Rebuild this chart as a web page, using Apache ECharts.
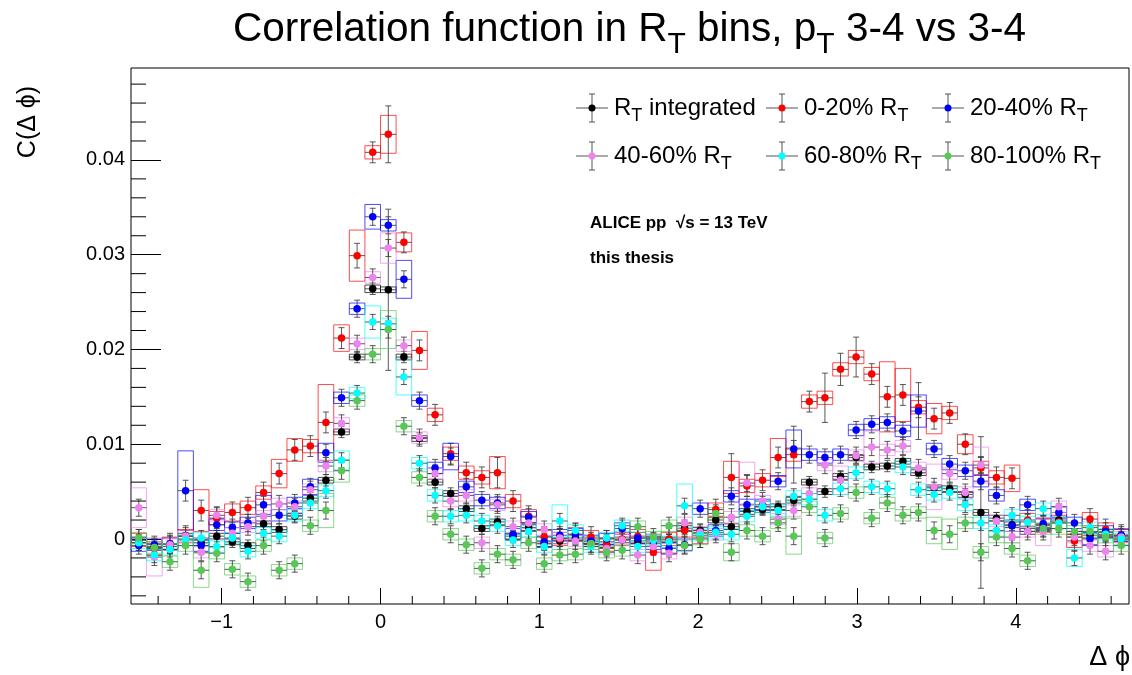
<!DOCTYPE html>
<html><head><meta charset="utf-8">
<script src="https://cdn.jsdelivr.net/npm/echarts@6/dist/echarts.min.js"></script>
<style>html,body{margin:0;padding:0;background:#fff}#c{width:1132px;height:675px}</style>
</head><body><div id="c"></div>
<script>
// ---------- axis definition ----------
const NBINS = 64;
const X_MIN = -Math.PI / 2, X_MAX = 3 * Math.PI / 2;
const Y_MIN = -0.00686, Y_MAX = 0.0497;
const xTicks = [-1, 0, 1, 2, 3, 4];
const xTickLabels = ['\u22121', '0', '1', '2', '3', '4'];
const xMinorTicks = [-1.4, -1.2, -0.8, -0.6, -0.4, -0.2, 0.2, 0.4, 0.6, 0.8, 1.2, 1.4, 1.6, 1.8, 2.2, 2.4, 2.6, 2.8, 3.2, 3.4, 3.6, 3.8, 4.2, 4.4, 4.6];
const yTicks = [0, 0.01, 0.02, 0.03, 0.04];
const yTickLabels = ['0', '0.01', '0.02', '0.03', '0.04'];
const yMinorTicks = [-0.006, -0.004, -0.002, 0.002, 0.004, 0.006, 0.008, 0.012, 0.014, 0.016, 0.018, 0.022, 0.024, 0.026, 0.028, 0.032, 0.034, 0.036, 0.038, 0.042, 0.044, 0.046, 0.048];

// ---------- series ----------
const seriesNames = ['R{s|T} integrated', '0-20% R{s|T}', '20-40% R{s|T}', '40-60% R{s|T}', '60-80% R{s|T}', '80-100% R{s|T}'];
const seriesColors = ['#000000', '#ff0000', '#0000ff', '#ee82ee', '#00ffff', '#55c855'];

const cIntegrated = [
 -0.0001, -0.0008, -0.0008, 0.0003, -0.0004, 0.0003, -0.0003, -0.0007,
 0.0016, 0.0010, 0.0024, 0.0043, 0.0062, 0.0113, 0.0192, 0.0264,
 0.0263, 0.0192, 0.0106, 0.0060, 0.0048, 0.0032, 0.0011, 0.0018,
 0.0003, 0.0012, -0.0005, -0.0002, 0.0001, -0.0003, -0.0006, -0.0001,
 -0.0002, 0.0000, -0.0001, 0.0011, 0.0009, 0.0020, 0.0013, 0.0029,
 0.0031, 0.0034, 0.0041, 0.0060, 0.0050, 0.0066, 0.0086, 0.0076,
 0.0077, 0.0082, 0.0070, 0.0054, 0.0053, 0.0047, 0.0028, 0.0022,
 0.0015, 0.0008, 0.0012, 0.0020, 0.0005, 0.0004, 0.0004, 0.0000];
const c0to20 = [
 -0.0001, -0.0010, -0.0005, 0.0003, 0.0030, 0.0022, 0.0028, 0.0033,
 0.0049, 0.0069, 0.0094, 0.0098, 0.0123, 0.0212, 0.0299, 0.0408,
 0.0427, 0.0313, 0.0199, 0.0131, 0.0090, 0.0070, 0.0065, 0.0070,
 0.0040, 0.0024, 0.0002, 0.0000, 0.0005, 0.0002, -0.0006, 0.0000,
 0.0003, -0.0014, 0.0000, 0.0009, 0.0002, 0.0031, 0.0065, 0.0056,
 0.0062, 0.0086, 0.0089, 0.0145, 0.0149, 0.0179, 0.0192, 0.0174,
 0.0150, 0.0152, 0.0139, 0.0127, 0.0133, 0.0100, 0.0075, 0.0065,
 0.0064, 0.0020, 0.0014, 0.0018, -0.0002, 0.0021, 0.0010, 0.0004];
const c20to40 = [
 -0.0007, -0.0006, -0.0005, 0.0051, -0.0007, 0.0015, 0.0012, 0.0017,
 0.0036, 0.0025, 0.0038, 0.0055, 0.0091, 0.0149, 0.0243, 0.0340,
 0.0331, 0.0274, 0.0146, 0.0075, 0.0087, 0.0055, 0.0041, 0.0038,
 0.0005, 0.0023, -0.0003, 0.0004, 0.0005, -0.0002, 0.0000, 0.0011,
 0.0001, -0.0005, -0.0010, -0.0006, 0.0032, 0.0009, 0.0045, 0.0036,
 0.0036, 0.0061, 0.0095, 0.0089, 0.0086, 0.0089, 0.0115, 0.0121,
 0.0123, 0.0114, 0.0135, 0.0095, 0.0079, 0.0072, 0.0061, 0.0046,
 0.0014, 0.0036, 0.0016, 0.0028, 0.0017, 0.0000, 0.0008, 0.0004];
const c40to60 = [
 0.0033, -0.0019, -0.0006, 0.0003, -0.0014, 0.0025, 0.0006, 0.0013,
 0.0024, 0.0037, 0.0034, 0.0052, 0.0077, 0.0122, 0.0206, 0.0276,
 0.0307, 0.0204, 0.0107, 0.0069, 0.0040, 0.0046, -0.0004, 0.0036,
 0.0013, 0.0017, 0.0010, 0.0001, -0.0002, -0.0005, -0.0010, -0.0001,
 -0.0017, -0.0008, -0.0015, 0.0017, 0.0007, 0.0005, 0.0023, 0.0059,
 0.0040, 0.0021, 0.0030, 0.0048, 0.0078, 0.0062, 0.0088, 0.0097,
 0.0094, 0.0098, 0.0075, 0.0055, 0.0069, 0.0049, 0.0078, 0.0019,
 0.0002, 0.0008, 0.0008, 0.0034, 0.0002, -0.0007, -0.0013, 0.0002];
const c60to80 = [
 -0.0004, -0.0017, -0.0011, -0.0001, 0.0001, -0.0008, 0.0001, -0.0013,
 0.0006, 0.0003, 0.0025, 0.0038, 0.0051, 0.0083, 0.0154, 0.0229,
 0.0227, 0.0171, 0.0080, 0.0046, 0.0024, 0.0025, 0.0019, 0.0014,
 -0.0001, 0.0008, -0.0008, 0.0019, 0.0009, -0.0008, 0.0001, 0.0014,
 -0.0008, -0.0001, -0.0003, 0.0035, 0.0004, 0.0007, 0.0005, 0.0024,
 0.0034, 0.0030, 0.0045, 0.0042, 0.0025, 0.0053, 0.0070, 0.0055,
 0.0053, 0.0076, 0.0052, 0.0047, 0.0049, 0.0036, 0.0017, 0.0009,
 0.0025, 0.0018, 0.0032, 0.0017, -0.0020, 0.0012, 0.0005, 0.0000];
const c80to100 = [
 0.0001, -0.0009, -0.0024, -0.0007, -0.0033, -0.0015, -0.0032, -0.0045,
 -0.0007, -0.0033, -0.0026, 0.0014, 0.0030, 0.0072, 0.0146, 0.0195,
 0.0221, 0.0119, 0.0065, 0.0024, 0.0005, -0.0006, -0.0031, -0.0016,
 -0.0022, -0.0004, -0.0026, -0.0017, -0.0016, -0.0005, -0.0014, -0.0012,
 0.0013, 0.0002, 0.0014, -0.0007, 0.0000, 0.0027, -0.0014, 0.0009,
 0.0003, 0.0017, 0.0003, 0.0034, 0.0001, 0.0027, 0.0049, 0.0022,
 0.0038, 0.0025, 0.0028, 0.0009, 0.0005, 0.0017, -0.0014, 0.0002,
 -0.0010, -0.0023, 0.0011, 0.0011, 0.0008, 0.0008, 0.0002, -0.0007];
const seriesValues = [cIntegrated, c0to20, c20to40, c40to60, c60to80, c80to100];

// statistical errors: typical value per series + bins with larger errors [bin, err]
const statTypical = [0.0006, 0.0011, 0.0009, 0.0009, 0.0008, 0.0009];
const statLarge = [
 [[16, 0.0085], [54, 0.008]],
 [[16, 0.003], [14, 0.0013], [23, 0.0016], [38, 0.0025], [42, 0.003], [44, 0.0026], [45, 0.0017], [46, 0.0021]],
 [[3, 0.0011], [50, 0.003]],
 [],
 [],
 []
];
// systematic uncertainty boxes: typical half-height per series + larger boxes [bin, halfHeight]
const sysTypical = [0.0003, 0.0007, 0.0006, 0.0006, 0.0006, 0.0006];
const sysLarge = [
 [[15, 0.0004]],
 [[4, 0.0022], [6, 0.0009], [9, 0.0015], [10, 0.0012], [12, 0.004], [13, 0.0014], [14, 0.0027], [16, 0.002], [17, 0.001], [18, 0.002], [23, 0.0017], [33, 0.0019], [38, 0.0017], [41, 0.002], [48, 0.0037], [49, 0.0028], [51, 0.0016], [53, 0.001], [56, 0.0014]],
 [[3, 0.0042], [8, 0.001], [11, 0.0008], [12, 0.001], [15, 0.0013], [17, 0.002], [20, 0.0014], [42, 0.002], [50, 0.0017]],
 [[0, 0.0021], [1, 0.002], [16, 0.0016], [39, 0.0022], [45, 0.0015], [47, 0.0017], [51, 0.0024], [54, 0.0019], [58, 0.0015]],
 [[13, 0.001], [15, 0.0017], [17, 0.0019], [27, 0.0017], [35, 0.0023], [60, 0.0009]],
 [[4, 0.0018], [12, 0.0018], [13, 0.0012], [16, 0.002], [38, 0.0009], [42, 0.0019], [51, 0.0014], [52, 0.0016]]
];

// ---------- build ----------
const binW = (X_MAX - X_MIN) / NBINS;
const binCenters = Array.from({length: NBINS}, (_, i) => X_MIN + (i + 0.5) * binW);
function expand(typical, large) {
  const a = new Array(NBINS).fill(typical);
  large.forEach(([b, v]) => { a[b] = v; });
  return a;
}
const FONT = '"Liberation Sans", Arial, Helvetica, sans-serif';

function boxRender(params, api) {
  const x = api.value(0), y = api.value(1), s = api.value(2);
  const p1 = api.coord([x - binW / 2, y + s]);
  const p2 = api.coord([x + binW / 2, y - s]);
  return {type: 'rect', shape: {x: p1[0], y: p1[1], width: p2[0] - p1[0], height: p2[1] - p1[1]},
    style: {fill: 'none', stroke: api.visual('color'), lineWidth: 1, opacity: 0.7}};
}
function errRender(params, api) {
  const x = api.value(0), y = api.value(1), e = api.value(2);
  const c = api.coord([x, y]);
  const hi = api.coord([x, y + e]);
  const lo = api.coord([x, y - e]);
  const l = api.coord([x - binW / 2, y]);
  const r = api.coord([x + binW / 2, y]);
  const st = {stroke: '#3c3c3c', lineWidth: 1, opacity: 0.85};
  return {type: 'group', children: [
    {type: 'line', shape: {x1: c[0], y1: hi[1], x2: c[0], y2: lo[1]}, style: st},
    {type: 'line', shape: {x1: c[0] - 3, y1: hi[1], x2: c[0] + 3, y2: hi[1]}, style: st},
    {type: 'line', shape: {x1: c[0] - 3, y1: lo[1], x2: c[0] + 3, y2: lo[1]}, style: st},
    {type: 'line', shape: {x1: l[0], y1: c[1], x2: r[0], y2: c[1]}, style: st}
  ]};
}

const series = [];
seriesValues.forEach((vals, k) => {
  const stat = expand(statTypical[k], statLarge[k]);
  const sys = expand(sysTypical[k], sysLarge[k]);
  const col = seriesColors[k];
  series.push({type: 'custom', name: 'sys' + k, renderItem: boxRender, clip: true, silent: true,
    itemStyle: {color: col}, data: vals.map((v, i) => [binCenters[i], v, sys[i]])});
  series.push({type: 'custom', name: 'stat' + k, renderItem: errRender, clip: true, silent: true,
    itemStyle: {color: col}, data: vals.map((v, i) => [binCenters[i], v, stat[i]])});
  series.push({type: 'scatter', name: 'pts' + k, symbol: 'circle', symbolSize: 7.5, silent: true,
    itemStyle: {color: col, opacity: 1}, data: vals.map((v, i) => [binCenters[i], v]), clip: true});
});
// minor ticks (drawn inward)
series.push({type: 'custom', silent: true, clip: false, z: 20,
  data: xMinorTicks.map(v => [v]),
  renderItem: (p, api) => { const pt = api.coord([api.value(0), Y_MIN]);
    return {type: 'line', shape: {x1: pt[0], y1: pt[1], x2: pt[0], y2: pt[1] - 8}, style: {stroke: '#000', lineWidth: 1}}; }});
series.push({type: 'custom', silent: true, clip: false, z: 20,
  data: yMinorTicks.map(v => [X_MIN, v]),
  renderItem: (p, api) => { const pt = api.coord([X_MIN, api.value(1)]);
    return {type: 'line', shape: {x1: pt[0], y1: pt[1], x2: pt[0] + 15, y2: pt[1]}, style: {stroke: '#000', lineWidth: 1}}; }});

// ---------- texts ----------
function richText(x, y, text, size, opts) {
  opts = opts || {};
  const sub = Math.round(size * 0.75);
  return {type: 'text', x: x, y: y, rotation: opts.rotation || 0, z: 100, silent: true,
    style: {text: text, fontSize: size, fontFamily: FONT, fontWeight: opts.bold ? 'bold' : 'normal', fill: '#000',
      align: opts.align || 'left', verticalAlign: 'middle', textAlign: opts.align || 'left', textVerticalAlign: 'middle',
      lineHeight: size + 4,
      rich: {s: {fontSize: sub, fontFamily: FONT, lineHeight: sub + 2, padding: [Math.round(size * 0.72), 0, 0, 0]}}}};
}
const graphics = [];
graphics.push(richText(233, 30, 'Correlation function in R{s|T} bins, p{s|T} 3-4 vs 3-4', 40.5));
const legX = [592, 782, 948], legY = [108, 156];
seriesNames.forEach((nm, k) => {
  const cx = legX[k % 3], cy = legY[Math.floor(k / 3)];
  const st = {stroke: '#555', lineWidth: 1};
  graphics.push({type: 'line', z: 100, shape: {x1: cx - 16, y1: cy, x2: cx + 16, y2: cy}, style: st});
  graphics.push({type: 'line', z: 100, shape: {x1: cx, y1: cy - 14, x2: cx, y2: cy + 14}, style: st});
  graphics.push({type: 'line', z: 100, shape: {x1: cx - 3, y1: cy - 14, x2: cx + 3, y2: cy - 14}, style: st});
  graphics.push({type: 'line', z: 100, shape: {x1: cx - 3, y1: cy + 14, x2: cx + 3, y2: cy + 14}, style: st});
  graphics.push({type: 'circle', z: 101, shape: {cx: cx, cy: cy, r: 3.5}, style: {fill: seriesColors[k]}});
  graphics.push(richText(cx + 22, cy, nm, 24));
});
graphics.push(richText(590, 223, 'ALICE pp  \u221As = 13 TeV', 17, {bold: true}));
graphics.push(richText(590, 258, 'this thesis', 17, {bold: true}));
graphics.push(richText(28, 122, 'C(\u0394 \u03D5)', 25, {rotation: Math.PI / 2, align: 'center'}));
graphics.push(richText(1130, 658, '\u0394 \u03D5', 27, {align: 'right'}));

const chart = echarts.init(document.getElementById('c'), null, {renderer: 'canvas'});
chart.setOption({
  animation: false,
  backgroundColor: '#fff',
  grid: {left: 131, right: 3, top: 68, bottom: 71, show: true, borderColor: '#000', borderWidth: 1, backgroundColor: 'transparent'},
  xAxis: {type: 'value', min: X_MIN, max: X_MAX, position: 'bottom',
    axisLine: {show: false, onZero: false}, splitLine: {show: false},
    axisTick: {show: true, inside: true, length: 16, customValues: xTicks, lineStyle: {color: '#000'}},
    axisLabel: {show: true, customValues: xTicks, margin: 8, fontSize: 20, fontFamily: FONT, color: '#000',
      formatter: v => { const i = xTicks.findIndex(t => Math.abs(t - v) < 1e-9); return i >= 0 ? xTickLabels[i] : ''; }}},
  yAxis: {type: 'value', min: Y_MIN, max: Y_MAX, position: 'left',
    axisLine: {show: false, onZero: false}, splitLine: {show: false},
    axisTick: {show: true, inside: true, length: 30, customValues: yTicks, lineStyle: {color: '#000'}},
    axisLabel: {show: true, customValues: yTicks, margin: 6, fontSize: 20, fontFamily: FONT, color: '#000',
      formatter: v => { const i = yTicks.findIndex(t => Math.abs(t - v) < 1e-9); return i >= 0 ? yTickLabels[i] : ''; }}},
  series: series,
  graphic: graphics
});
</script></body></html>
